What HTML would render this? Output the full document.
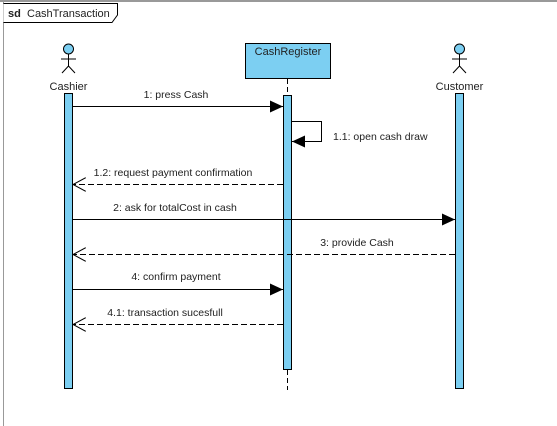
<!DOCTYPE html>
<html><head><style>
html,body{margin:0;padding:0;background:#fff;}
svg{display:block;}
text{font-family:"Liberation Sans",Arial,sans-serif;font-size:10.5px;fill:#222;}
</style></head><body>
<svg width="557" height="426" viewBox="0 0 557 426" xmlns="http://www.w3.org/2000/svg">
<defs>
<marker id="f" markerWidth="14" markerHeight="12" refX="13" refY="6" orient="auto" markerUnits="userSpaceOnUse"><path d="M0,0 L13,6 L0,12 z" fill="#000"/></marker>
<marker id="o" markerWidth="14" markerHeight="14" refX="13" refY="7" orient="auto" markerUnits="userSpaceOnUse"><path d="M0,0 L13,7 L0,14" fill="none" stroke="#000" stroke-width="1"/></marker>
</defs>
<line x1="0" y1="1" x2="557" y2="1" stroke="#333"/>
<line x1="3.5" y1="1" x2="3.5" y2="426" stroke="#999"/>
<path d="M3.5,3.5 H117.5 V15 L112,22.5 H3.5" fill="#fff" stroke="#000"/>
<text x="8" y="17" style="font-weight:bold;font-size:11px">sd</text>
<text x="27" y="17" style="font-size:11px">CashTransaction</text>
<!-- Cashier -->
<circle cx="68.5" cy="49" r="5" fill="#7ccff2" stroke="#000"/>
<path d="M68.5,54 V66 M61,59 H76 M68.5,66 L62,73 M68.5,66 L75,73" stroke="#000" fill="none"/>
<text x="68.5" y="90" text-anchor="middle" style="font-size:11px">Cashier</text>
<rect x="64.5" y="93.5" width="8" height="295" fill="#7ccff2" stroke="#000"/>
<!-- Customer -->
<circle cx="459.5" cy="49" r="5" fill="#7ccff2" stroke="#000"/>
<path d="M459.5,54 V66 M452,59 H467 M459.5,66 L453,73 M459.5,66 L466,73" stroke="#000" fill="none"/>
<text x="459.5" y="90" text-anchor="middle" style="font-size:11px">Customer</text>
<rect x="455.5" y="93.5" width="8" height="295" fill="#7ccff2" stroke="#000"/>
<!-- CashRegister -->
<rect x="245.5" y="43.5" width="85" height="35" fill="#7ccff2" stroke="#000"/>
<text x="288" y="55" text-anchor="middle" style="font-size:11px">CashRegister</text>
<line x1="287.5" y1="79" x2="287.5" y2="95" stroke="#000" stroke-dasharray="5,3"/>
<line x1="287.5" y1="370" x2="287.5" y2="390" stroke="#000" stroke-dasharray="5,3"/>
<rect x="283.5" y="95.5" width="8" height="274" fill="#7ccff2" stroke="#000"/>
<!-- messages -->
<line x1="73" y1="106.5" x2="283" y2="106.5" stroke="#000" marker-end="url(#f)"/>
<text x="176" y="98" text-anchor="middle">1: press Cash</text>
<path d="M292,121.5 H321.5 V141.5 H292" fill="none" stroke="#000" marker-end="url(#f)"/>
<text x="333" y="140">1.1: open cash draw</text>
<line x1="283" y1="184.5" x2="73" y2="184.5" stroke="#000" stroke-dasharray="6,3" marker-end="url(#o)"/>
<text x="173" y="176" text-anchor="middle">1.2: request payment confirmation</text>
<line x1="73" y1="219.5" x2="455" y2="219.5" stroke="#000" marker-end="url(#f)"/>
<text x="175" y="211" text-anchor="middle">2: ask for totalCost in cash</text>
<line x1="455" y1="254.5" x2="73" y2="254.5" stroke="#000" stroke-dasharray="6,3" marker-end="url(#o)"/>
<text x="357" y="246" text-anchor="middle">3: provide Cash</text>
<line x1="73" y1="289.5" x2="283" y2="289.5" stroke="#000" marker-end="url(#f)"/>
<text x="176" y="280" text-anchor="middle">4: confirm payment</text>
<line x1="283" y1="324.5" x2="73" y2="324.5" stroke="#000" stroke-dasharray="6,3" marker-end="url(#o)"/>
<text x="165" y="316" text-anchor="middle">4.1: transaction sucesfull</text>
</svg>
</body></html>
